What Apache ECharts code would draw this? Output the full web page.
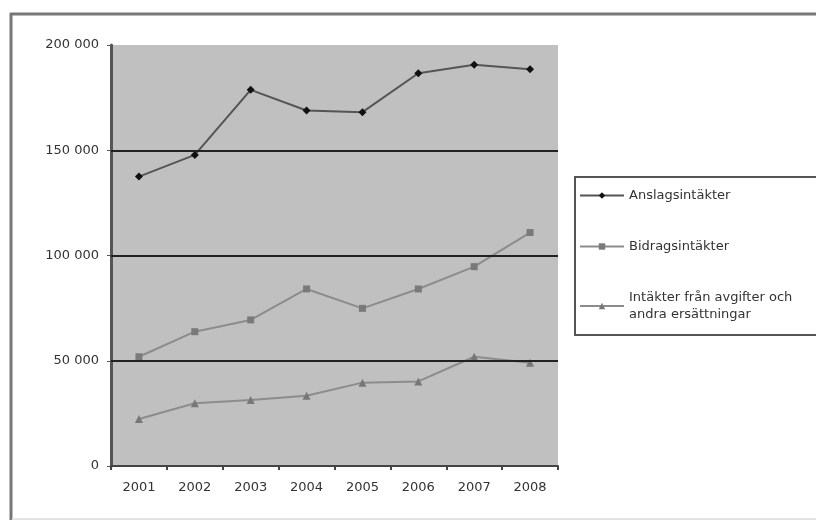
<!DOCTYPE html>
<html>
<head>
<meta charset="utf-8">
<script src="https://cdn.jsdelivr.net/npm/echarts@6/dist/echarts.min.js"></script>
<style>
  html, body { margin: 0; padding: 0; background: #fff; }
  #chart { width: 816px; height: 523px; }
</style>
</head>
<body>
<div id="chart"></div>
<script>
// data
var years = ['2001', '2002', '2003', '2004', '2005', '2006', '2007', '2008'];
var seriesNames = ['Anslagsintäkter', 'Bidragsintäkter', 'Intäkter från avgifter och andra ersättningar'];
var anslag = [137500, 147800, 178700, 168900, 168100, 186600, 190600, 188500];
var bidrag = [51900, 63800, 69400, 84100, 74900, 84100, 94700, 110900];
var avgifter = [22300, 29800, 31400, 33400, 39600, 40200, 51900, 49100];
var gridValues = [50000, 100000, 150000];

var myChart = echarts.init(document.getElementById('chart'));

function fmt(v) {
    return String(v).replace(/\B(?=(\d{3})+(?!\d))/g, ' ');
}

var font = '"DejaVu Sans", sans-serif';

var option = {
    backgroundColor: '#fff',
    animation: false,
    textStyle: { fontFamily: font },
    graphic: [{
        type: 'line',
        shape: { x1: 11, y1: 13, x2: 11, y2: 520 },
        style: { stroke: '#777', lineWidth: 3 }
    }, {
        type: 'line',
        shape: { x1: 10, y1: 14, x2: 816, y2: 14 },
        style: { stroke: '#777', lineWidth: 3 }
    }, {
        type: 'line',
        shape: { x1: 12, y1: 519, x2: 816, y2: 519 },
        style: { stroke: '#e2e2e2', lineWidth: 2 }
    }],
    grid: {
        left: 111,
        top: 45,
        right: 258,
        bottom: 57,
        show: true,
        backgroundColor: '#c0c0c0',
        borderWidth: 0
    },
    legend: {
        orient: 'vertical',
        left: 575,
        top: 177,
        data: seriesNames,
        backgroundColor: '#fff',
        borderColor: '#555',
        borderWidth: 2,
        borderRadius: 0,
        padding: [10, 80, 12, 4],
        itemGap: 34,
        itemWidth: 44,
        itemHeight: 8,
        formatter: function (name) {
            return name === seriesNames[2] ? 'Intäkter från avgifter och\nandra ersättningar' : name;
        },
        textStyle: { fontSize: 13, color: '#333', lineHeight: 17, fontFamily: font }
    },
    xAxis: {
        type: 'category',
        data: years,
        boundaryGap: true,
        axisLine: { lineStyle: { color: '#444', width: 2 } },
        axisTick: { show: true, length: 4, lineStyle: { color: '#444', width: 2 } },
        axisLabel: { margin: 15, fontSize: 13, color: '#333' }
    },
    yAxis: {
        type: 'value',
        min: 0,
        max: 200000,
        interval: 50000,
        axisLine: { show: true, lineStyle: { color: '#555', width: 3 } },
        axisTick: { show: true, length: 4, lineStyle: { color: '#555' } },
        axisLabel: { margin: 12, fontSize: 13, color: '#333', formatter: fmt },
        splitLine: { show: false }
    },
    series: [{
        name: seriesNames[0],
        type: 'line',
        data: anslag,
        symbol: 'diamond',
        symbolSize: 8,
        lineStyle: { color: '#555', width: 2 },
        itemStyle: { color: '#111' },
        markLine: {
            silent: true,
            symbol: 'none',
            label: { show: false },
            lineStyle: { color: '#222', width: 2, type: 'solid' },
            data: gridValues.map(function (v) { return { yAxis: v }; })
        },
        z: 3
    }, {
        name: seriesNames[1],
        type: 'line',
        data: bidrag,
        symbol: 'rect',
        symbolSize: 7,
        lineStyle: { color: '#8c8c8c', width: 2 },
        itemStyle: { color: '#7a7a7a' },
        z: 3
    }, {
        name: seriesNames[2],
        type: 'line',
        data: avgifter,
        symbol: 'triangle',
        symbolSize: 8,
        lineStyle: { color: '#8c8c8c', width: 2 },
        itemStyle: { color: '#777' },
        z: 3
    }]
};

myChart.setOption(option);
</script>
</body>
</html>
